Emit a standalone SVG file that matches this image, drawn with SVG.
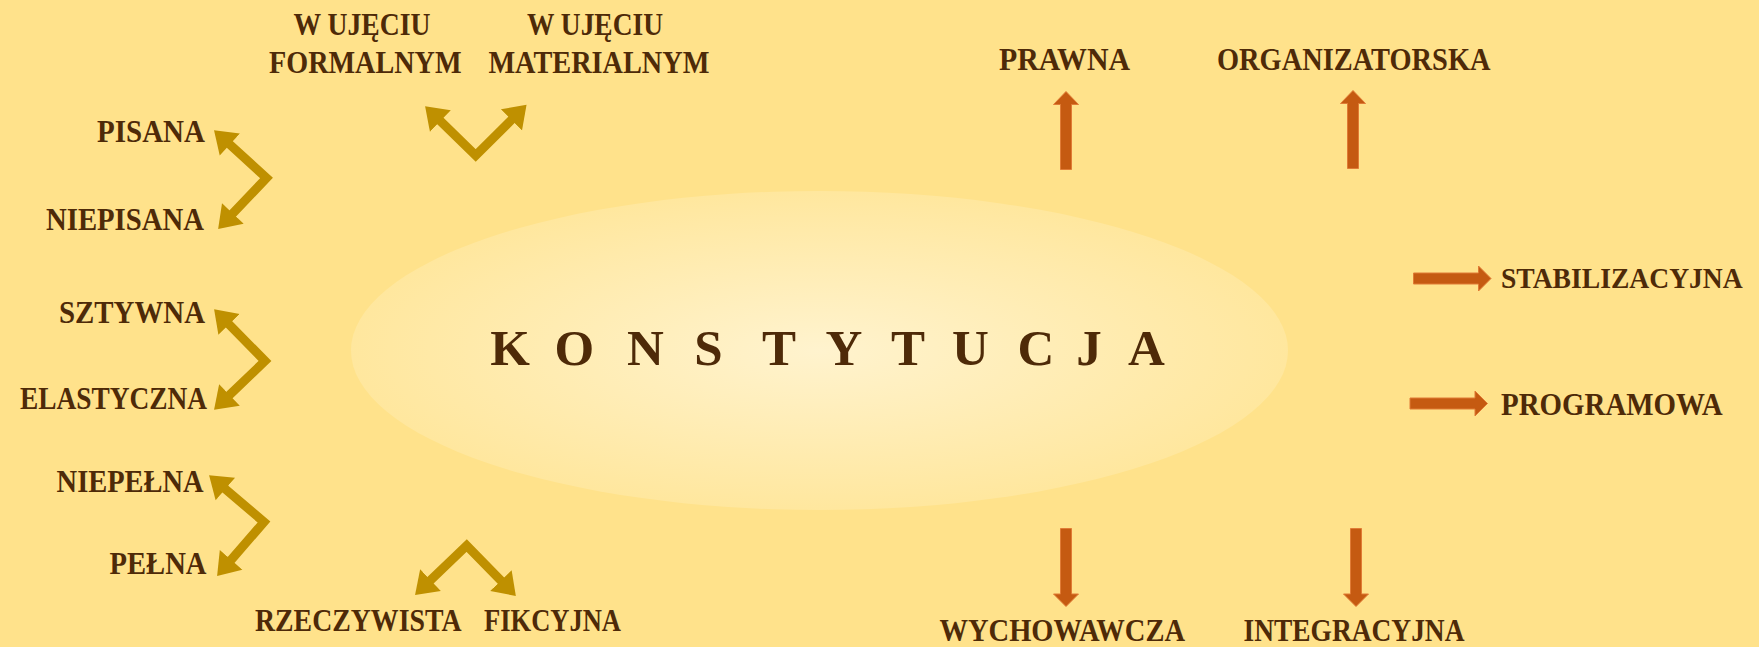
<svg xmlns="http://www.w3.org/2000/svg" width="1759" height="647" viewBox="0 0 1759 647">
<style>
.t{font-family:"Liberation Serif","DejaVu Serif",serif;font-weight:bold;font-size:31px;fill:#4E2A08}
.big{font-family:"Liberation Serif","DejaVu Serif",serif;font-weight:bold;font-size:51px;fill:#4E2A08;text-anchor:middle}
.br{fill:none;stroke:#BF9000;stroke-width:9;stroke-linejoin:miter;stroke-miterlimit:10;marker-start:url(#gh);marker-end:url(#gh)}
.oa{fill:#C55A11;stroke:#E07B35;stroke-width:1}
</style>
<defs>
<radialGradient id="eg" cx="50%" cy="50%" r="50%">
<stop offset="0" stop-color="#FFF3CE"/>
<stop offset="1" stop-color="#FFE79E"/>
</radialGradient>
<marker id="gh" markerUnits="userSpaceOnUse" markerWidth="24" markerHeight="32" viewBox="0 -15 22 30" refX="1" refY="0" orient="auto-start-reverse">
<path d="M0,-14 L20,0 L0,14 z" fill="#BF9000"/>
</marker>
</defs>
<rect width="1759" height="647" fill="#FFE28B"/>
<g id="konstytucja">
<ellipse cx="819.5" cy="350.5" rx="468.5" ry="159.5" fill="url(#eg)"/>
<text class="big" x="510 574.4 645.3 708.4 779 844 908 970.3 1036 1089 1146.3" y="365">KONSTYTUCJA</text>
</g>
<g id="connectors">
<path class="br" d="M229,143.8 L266.5,178 L232.1,214.2"/>
<path class="br" d="M228.3,323.6 L265,361 L228.7,395.8"/>
<path class="br" d="M224.5,488.3 L264,522 L230.4,560.7"/>
<path class="br" d="M439.6,120.3 L475.7,155.5 L512.2,119.1"/>
<path class="br" d="M429.7,580.9 L466.7,545.5 L501.7,581.4"/>
<polygon class="oa" points="1060.5,169.5 1060.5,104.5 1053.5,104.5 1066,91.5 1078.5,104.5 1071.5,104.5 1071.5,169.5"/>
<polygon class="oa" points="1347.5,168.5 1347.5,103.5 1340.5,103.5 1353,90.5 1365.5,103.5 1358.5,103.5 1358.5,168.5"/>
<polygon class="oa" points="1060.5,528.5 1071.5,528.5 1071.5,594 1078.5,594 1066,606.5 1053.5,594 1060.5,594"/>
<polygon class="oa" points="1350.5,528.5 1361.5,528.5 1361.5,594 1368.5,594 1356,606.5 1343.5,594 1350.5,594"/>
<polygon class="oa" points="1413.5,273 1478.5,273 1478.5,266 1491,278.5 1478.5,291 1478.5,284 1413.5,284"/>
<polygon class="oa" points="1410,398 1475,398 1475,391 1487.5,403.5 1475,416 1475,409 1410,409"/>
</g>
<g id="formalnym"><text class="t" x="293.5" y="35" textLength="137" lengthAdjust="spacingAndGlyphs">W UJĘCIU</text><text class="t" x="269" y="72.7" textLength="192.5" lengthAdjust="spacingAndGlyphs">FORMALNYM</text></g>
<g id="materialnym"><text class="t" x="527" y="35" textLength="136" lengthAdjust="spacingAndGlyphs">W UJĘCIU</text><text class="t" x="488.4" y="72.7" textLength="221" lengthAdjust="spacingAndGlyphs">MATERIALNYM</text></g>
<g id="pisana"><text class="t" x="97" y="142" textLength="108" lengthAdjust="spacingAndGlyphs">PISANA</text></g>
<g id="niepisana"><text class="t" x="46" y="230" textLength="158" lengthAdjust="spacingAndGlyphs">NIEPISANA</text></g>
<g id="sztywna"><text class="t" x="59" y="322.7" textLength="146" lengthAdjust="spacingAndGlyphs">SZTYWNA</text></g>
<g id="elastyczna"><text class="t" x="20" y="409" textLength="187" lengthAdjust="spacingAndGlyphs">ELASTYCZNA</text></g>
<g id="niepelna"><text class="t" x="56.6" y="491.7" textLength="147" lengthAdjust="spacingAndGlyphs">NIEPEŁNA</text></g>
<g id="pelna"><text class="t" x="109.5" y="574" textLength="97" lengthAdjust="spacingAndGlyphs">PEŁNA</text></g>
<g id="rzeczywista"><text class="t" x="255" y="631" textLength="206.5" lengthAdjust="spacingAndGlyphs">RZECZYWISTA</text></g>
<g id="fikcyjna"><text class="t" x="484" y="631" textLength="137" lengthAdjust="spacingAndGlyphs">FIKCYJNA</text></g>
<g id="prawna"><text class="t" x="999" y="70" textLength="131" lengthAdjust="spacingAndGlyphs">PRAWNA</text></g>
<g id="organizatorska"><text class="t" x="1217" y="70" textLength="273.5" lengthAdjust="spacingAndGlyphs">ORGANIZATORSKA</text></g>
<g id="stabilizacyjna"><text class="t" x="1501" y="288.3" textLength="241.7" lengthAdjust="spacingAndGlyphs" style="font-size:28.5px">STABILIZACYJNA</text></g>
<g id="programowa"><text class="t" x="1501" y="415" textLength="221.7" lengthAdjust="spacingAndGlyphs">PROGRAMOWA</text></g>
<g id="wychowawcza"><text class="t" x="939.5" y="640.7" textLength="245.5" lengthAdjust="spacingAndGlyphs">WYCHOWAWCZA</text></g>
<g id="integracyjna"><text class="t" x="1243.5" y="640.7" textLength="221" lengthAdjust="spacingAndGlyphs">INTEGRACYJNA</text></g>
</svg>
